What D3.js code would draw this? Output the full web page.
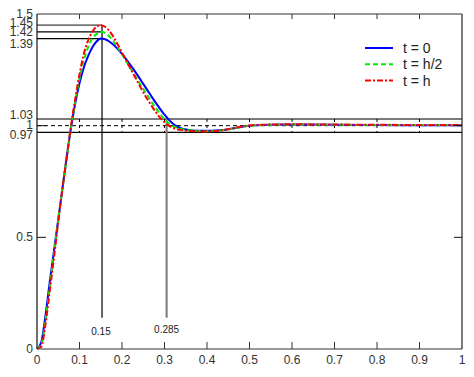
<!DOCTYPE html>
<html><head><meta charset="utf-8">
<script src="https://cdn.jsdelivr.net/npm/d3@7"></script>
<style>body{margin:0;background:#fff}svg{display:block}text{font-family:"Liberation Sans",Arial,sans-serif}</style>
</head><body>
<svg id="c" width="474" height="377"></svg>
<script>
const tValues = [0,0.01,0.02,0.03,0.04,0.05,0.06,0.07,0.08,0.09,0.10,0.11,0.12,0.13,0.14,0.15,0.16,0.17,0.18,0.19,0.20,0.21,0.22,0.23,0.24,0.25,0.26,0.27,0.28,0.29,0.30,0.31,0.32,0.33,0.34,0.35,0.36,0.38,0.40,0.42,0.44,0.46,0.48,0.50,0.55,0.60,0.70,0.80,0.90,1.00];
const yBlue  = [0,0.03,0.15,0.30,0.44,0.58,0.72,0.86,0.99,1.10,1.19,1.26,1.31,1.35,1.377,1.39,1.387,1.377,1.362,1.343,1.321,1.297,1.271,1.244,1.216,1.187,1.158,1.129,1.101,1.074,1.049,1.027,1.009,0.996,0.988,0.983,0.980,0.977,0.977,0.978,0.981,0.987,0.994,1.000,1.004,1.005,1.004,1.003,1.002,1.002];
const yGreen = [0,0.02,0.13,0.28,0.43,0.58,0.72,0.86,0.99,1.11,1.21,1.29,1.35,1.39,1.41,1.42,1.415,1.40,1.378,1.35,1.32,1.289,1.258,1.226,1.195,1.165,1.135,1.105,1.078,1.052,1.028,1.01,0.998,0.99,0.985,0.981,0.979,0.976,0.975,0.977,0.981,0.987,0.994,1.000,1.004,1.005,1.004,1.003,1.003,1.003];
const yRed   = [0,0.01,0.11,0.26,0.41,0.57,0.72,0.86,1.00,1.12,1.23,1.32,1.38,1.42,1.443,1.45,1.443,1.425,1.397,1.363,1.327,1.291,1.255,1.22,1.185,1.15,1.117,1.088,1.06,1.035,1.015,1.0,0.99,0.984,0.98,0.977,0.976,0.974,0.974,0.976,0.981,0.988,0.995,1.001,1.005,1.006,1.005,1.004,1.003,1.003];
const seriesNames = ["t = 0","t = h/2","t = h"];
const xTicks = [0,0.1,0.2,0.3,0.4,0.5,0.6,0.7,0.8,0.9,1];
const xTickLabels = ["0","0.1","0.2","0.3","0.4","0.5","0.6","0.7","0.8","0.9","1"];
const yTicks = [0,0.5,1,1.5];
const yLabelValues = [0,0.5,0.97,1,1.03,1.39,1.42,1.45,1.5];
const yLabelTexts = ["0","0.5","0.97","1","1.03","1.39","1.42","1.45","1.5"];
const peakValues = [1.39,1.42,1.45];
const peakT = 0.153;
const settleT = 0.305;
const annotLabels = ["0.15","0.285"];
const gridTicks = [0.1,0.2,0.3,0.4,0.5,0.6,0.7,0.8,0.9];

const svg = d3.select("#c");
const L=37,R=462,T=14,B=349;
const x = d3.scaleLinear().domain([0,1]).range([L,R]);
const y = d3.scaleLinear().domain([0,1.5]).range([B,T]);

// band lines
svg.append("line").attr("x1",L).attr("x2",R).attr("y1",y(1.03)).attr("y2",y(1.03)).attr("stroke","#7a7a7a").attr("stroke-width",2);
svg.append("line").attr("x1",L).attr("x2",R).attr("y1",y(1)).attr("y2",y(1)).attr("stroke","#000").attr("stroke-width",1).attr("stroke-dasharray","4,3");
svg.append("line").attr("x1",L).attr("x2",R).attr("y1",y(0.97)).attr("y2",y(0.97)).attr("stroke","#000").attr("stroke-width",1.2);
svg.selectAll(".vg").data(gridTicks).enter().append("line")
  .attr("x1",d=>x(d)).attr("x2",d=>x(d)).attr("y1",y(1.03)).attr("y2",y(0.97))
  .attr("stroke","#000").attr("stroke-width",1).attr("stroke-dasharray","3,3");

// peak annotation lines
const peakColors = ["#000","#000","#777"];
svg.selectAll(".pk").data(peakValues).enter().append("line")
  .attr("x1",L).attr("x2",x(peakT)).attr("y1",d=>y(d)).attr("y2",d=>y(d))
  .attr("stroke",(d,i)=>peakColors[i]).attr("stroke-width",(d,i)=>i==2?1.6:1.2);
svg.append("line").attr("x1",x(peakT)).attr("x2",x(peakT)).attr("y1",y(1.45)).attr("y2",y(0.14)).attr("stroke","#000").attr("stroke-width",1.2);
svg.append("line").attr("x1",x(settleT)).attr("x2",x(settleT)).attr("y1",y(1.03)).attr("y2",y(0.14)).attr("stroke","#7a7a7a").attr("stroke-width",2);
svg.append("text").attr("x",x(peakT)-1).attr("y",335).attr("text-anchor","middle").attr("font-size",10).attr("fill","#222").text(annotLabels[0]);
svg.append("text").attr("x",x(settleT)).attr("y",333).attr("text-anchor","middle").attr("font-size",10).attr("fill","#222").text(annotLabels[1]);

// curves
const line = d3.line().x((d,i)=>x(tValues[i])).y(d=>y(d)).curve(d3.curveMonotoneX);
const styles = [
  {data:yBlue,color:"#0000ff",dash:null},
  {data:yGreen,color:"#00ee00",dash:"5,3"},
  {data:yRed,color:"#ff0000",dash:"6,2,2,2"}];
styles.forEach(s=>{
  svg.append("path").attr("d",line(s.data)).attr("fill","none").attr("stroke",s.color)
    .attr("stroke-width",2).attr("stroke-dasharray",s.dash);
});

// axes box
svg.append("line").attr("x1",L).attr("x2",R).attr("y1",T).attr("y2",T).attr("stroke","#777").attr("stroke-width",1.5);
svg.append("line").attr("x1",L).attr("x2",R).attr("y1",B).attr("y2",B).attr("stroke","#777").attr("stroke-width",1.6);
svg.append("line").attr("x1",L).attr("x2",L).attr("y1",T).attr("y2",B).attr("stroke","#111").attr("stroke-width",1.2);
svg.append("line").attr("x1",R).attr("x2",R).attr("y1",T).attr("y2",B).attr("stroke","#222").attr("stroke-width",1.2);

// ticks
const xt = xTicks.slice(1,-1);
svg.selectAll(".bt").data(xt).enter().append("line").attr("x1",d=>x(d)).attr("x2",d=>x(d)).attr("y1",B).attr("y2",B-7).attr("stroke","#333").attr("stroke-width",1);
svg.selectAll(".tt").data(xt).enter().append("line").attr("x1",d=>x(d)).attr("x2",d=>x(d)).attr("y1",T).attr("y2",T+5).attr("stroke","#333").attr("stroke-width",1);
const yt = yTicks.slice(1,-1);
svg.selectAll(".lt").data(yt).enter().append("line").attr("x1",L).attr("x2",L+9).attr("y1",d=>y(d)).attr("y2",d=>y(d)).attr("stroke","#111").attr("stroke-width",1);
svg.selectAll(".rt").data(yt).enter().append("line").attr("x1",R).attr("x2",R-8).attr("y1",d=>y(d)).attr("y2",d=>y(d)).attr("stroke","#111").attr("stroke-width",1);

// x tick labels
svg.selectAll(".xl").data(xTicks).enter().append("text")
  .attr("x",d=>x(d)).attr("y",364).attr("text-anchor","middle").attr("font-size",12).attr("fill","#333")
  .text((d,i)=>xTickLabels[i]);
// y labels (nudged as in the reference)
const yNudge = {"0":4,"0.5":4,"0.97":6.5,"1":3.5,"1.03":0,"1.39":9.5,"1.42":4.5,"1.45":2,"1.5":4};
svg.selectAll(".yl").data(yLabelValues).enter().append("text")
  .attr("x",33).attr("y",(d,i)=>y(d)+yNudge[yLabelTexts[i]]).attr("text-anchor","end").attr("font-size",12).attr("fill","#333")
  .text((d,i)=>yLabelTexts[i]);

// legend
const lg = svg.append("g");
styles.forEach((s,i)=>{
  const ly = 48 + i*16.3;
  lg.append("line").attr("x1",365).attr("x2",393).attr("y1",ly).attr("y2",ly).attr("stroke",s.color).attr("stroke-width",2).attr("stroke-dasharray",s.dash);
  lg.append("text").attr("x",403).attr("y",ly+5).attr("font-size",14).attr("fill","#222").text(seriesNames[i]);
});
</script>
</body></html>
